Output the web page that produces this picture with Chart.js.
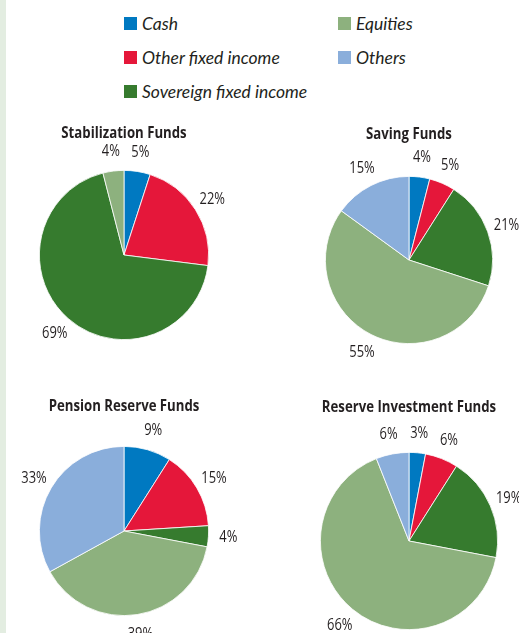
<!DOCTYPE html>
<html>
<head>
<meta charset="utf-8">
<script src="https://cdn.jsdelivr.net/npm/chart.js@4.4.0/dist/chart.umd.min.js"></script>
<style>
  html, body { margin: 0; padding: 0; background: #ffffff; }
  #page { position: relative; width: 519px; height: 633px; overflow: hidden; background: #ffffff; }
  #stripe { position: absolute; left: 0; top: 0; width: 6px; height: 633px; background: #e3ede1; }
  #legend {
    position: absolute; left: 124px; top: 6px;
    display: grid; grid-auto-flow: column;
    grid-template-rows: 34px 34px 33px; grid-template-columns: 214px 160px;
    font: italic 17.5px Lato, "Open Sans", sans-serif; color: #231f20;
  }
  .legend-item { display: flex; align-items: center; height: 34px; white-space: nowrap; }
  .legend-box { width: 13px; height: 13px; margin-right: 5px; flex: none; }
  .pie-box { position: absolute; }
</style>
</head>
<body>
<div id="page">
  <div id="stripe"></div>
  <div id="legend"></div>
</div>
<script>
// --- Data ---
const categories = ['Cash', 'Other fixed income', 'Sovereign fixed income', 'Equities', 'Others'];
const fundNames = ['Stabilization Funds', 'Saving Funds', 'Pension Reserve Funds', 'Reserve Investment Funds'];
const stabilizationValues = [5, 22, 69, 4, 0];
const savingValues = [4, 5, 21, 55, 15];
const pensionValues = [9, 15, 4, 39, 33];
const reserveValues = [3, 6, 19, 66, 6];
const fundValues = [stabilizationValues, savingValues, pensionValues, reserveValues];

// --- Styles ---
const sliceColors = ['#0079c1', '#e5173a', '#367b2e', '#8db17e', '#8aaedb'];
const labelFont = "17px 'Open Sans', sans-serif";
const titleFont = "bold 16.5px 'Open Sans', sans-serif";
// horizontal squeeze to mimic a condensed face
const labelNarrow = 0.76;
const titleNarrow = 0.8;

// page positions of each pie (box on the page, centre, radius, title row)
const boxes = [
  { left: 6,   top: 110, width: 256, height: 262, cx: 124, cy: 255, r: 85, titleY: 133 },
  { left: 262, top: 110, width: 257, height: 262, cx: 409, cy: 260, r: 84, titleY: 134 },
  { left: 6,   top: 380, width: 256, height: 253, cx: 124, cy: 531, r: 85, titleY: 406 },
  { left: 262, top: 380, width: 257, height: 253, cx: 409, cy: 541, r: 89, titleY: 407 }
];

// --- Legend ---
const legend = document.getElementById('legend');
categories.forEach((name, i) => {
  const item = document.createElement('div');
  item.className = 'legend-item';
  item.innerHTML = `<span class="legend-box" style="background:${sliceColors[i]}"></span><span>${name}</span>`;
  legend.appendChild(item);
});

function narrowText(ctx, text, x, y, sx) {
  ctx.save();
  ctx.translate(x, y);
  ctx.scale(sx, 1);
  ctx.fillText(text, 0, 0);
  ctx.restore();
}

// --- Percent labels + title plugin ---
const sliceLabels = {
  id: 'sliceLabels',
  afterDatasetsDraw(chart, args, opts) {
    const ctx = chart.ctx;
    const meta = chart.getDatasetMeta(0);
    const values = chart.data.datasets[0].data;
    ctx.save();
    ctx.fillStyle = '#231f20';
    ctx.textAlign = 'center';
    ctx.textBaseline = 'middle';
    ctx.font = labelFont;
    meta.data.forEach((arc, i) => {
      if (!values[i]) return;
      const mid = (arc.startAngle + arc.endAngle) / 2;
      const dist = arc.outerRadius + opts.gap;
      narrowText(ctx, values[i] + '%', arc.x + Math.cos(mid) * dist, arc.y + Math.sin(mid) * dist, labelNarrow);
    });
    ctx.font = titleFont;
    const cx = (chart.chartArea.left + chart.chartArea.right) / 2;
    narrowText(ctx, opts.title, cx, opts.titleY, titleNarrow);
    ctx.restore();
  }
};

// --- Charts ---
const page = document.getElementById('page');
boxes.forEach((b, k) => {
  const wrap = document.createElement('div');
  wrap.className = 'pie-box';
  wrap.style.left = b.left + 'px';
  wrap.style.top = b.top + 'px';
  wrap.style.width = b.width + 'px';
  wrap.style.height = b.height + 'px';
  const canvas = document.createElement('canvas');
  wrap.appendChild(canvas);
  page.appendChild(wrap);

  new Chart(canvas.getContext('2d'), {
    type: 'pie',
    data: {
      labels: categories,
      datasets: [{
        data: fundValues[k],
        backgroundColor: sliceColors,
        borderColor: '#ffffff',
        borderWidth: 0.8,
        hoverOffset: 0
      }]
    },
    options: {
      responsive: true,
      maintainAspectRatio: false,
      animation: false,
      layout: {
        padding: {
          left: b.cx - b.left - b.r,
          right: b.left + b.width - b.cx - b.r,
          top: b.cy - b.top - b.r,
          bottom: b.top + b.height - b.cy - b.r
        }
      },
      plugins: {
        legend: { display: false },
        tooltip: { enabled: false },
        sliceLabels: { gap: 20, title: fundNames[k], titleY: b.titleY - b.top }
      }
    },
    plugins: [sliceLabels]
  });
});
</script>
</body>
</html>
